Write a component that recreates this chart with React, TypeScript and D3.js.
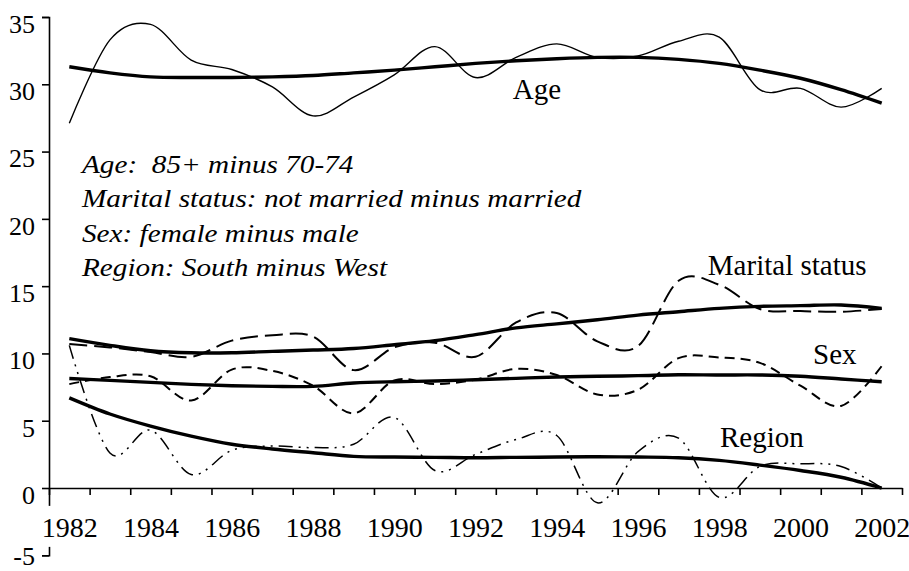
import React, { useEffect, useRef } from 'react'
import * as d3 from 'd3'

// years on the category axis
const years = [1982, 1983, 1984, 1985, 1986, 1987, 1988, 1989, 1990, 1991, 1992,
  1993, 1994, 1995, 1996, 1997, 1998, 1999, 2000, 2001, 2002]
const yearLabels = [1982, 1984, 1986, 1988, 1990, 1992, 1994, 1996, 1998, 2000, 2002]
const yTicks = [-5, 0, 5, 10, 15, 20, 25, 30, 35]

// differences, percentage points
const ageRaw = [27.1, 33.3, 34.45, 31.8, 31.1, 29.8, 27.65, 29.05, 30.7, 32.8, 30.5,
  32.0, 33.0, 32.0, 32.1, 33.2, 33.5, 29.6, 29.7, 28.3, 29.7]
const ageTrend = [31.3, 30.85, 30.55, 30.5, 30.5, 30.55, 30.65, 30.85, 31.05, 31.3, 31.55,
  31.75, 31.9, 32.0, 32.0, 31.85, 31.55, 31.05, 30.45, 29.6, 28.6]
const maritalRaw = [10.7, 10.45, 10.1, 9.75, 10.95, 11.35, 11.25, 8.76, 10.45, 10.8, 9.75,
  12.3, 13.0, 10.9, 10.55, 15.4, 15.1, 13.3, 13.15, 13.1, 13.3]
const maritalTrend = [11.1, 10.6, 10.2, 10.05, 10.05, 10.15, 10.25, 10.37, 10.65, 10.95, 11.4,
  11.9, 12.2, 12.5, 12.85, 13.1, 13.35, 13.5, 13.55, 13.6, 13.35]
const sexRaw = [7.72, 8.25, 8.3, 6.5, 8.8, 8.7, 7.6, 5.55, 8.0, 7.72, 8.05,
  8.85, 8.4, 6.95, 7.3, 9.65, 9.7, 9.3, 7.6, 6.1, 9.06]
const sexTrend = [8.14, 8.0, 7.85, 7.7, 7.6, 7.55, 7.55, 7.8, 7.9, 7.95, 8.05,
  8.15, 8.25, 8.3, 8.35, 8.42, 8.4, 8.4, 8.3, 8.1, 7.9]
const regionRaw = [10.6, 2.6, 4.3, 1.0, 2.8, 3.12, 3.0, 3.25, 5.25, 1.3, 2.5,
  3.6, 3.9, -1.1, 2.7, 3.7, -0.7, 1.6, 1.8, 1.6, 0.0]
const regionTrend = [6.7, 5.5, 4.6, 3.85, 3.25, 2.9, 2.62, 2.35, 2.3, 2.28, 2.25,
  2.28, 2.3, 2.32, 2.3, 2.25, 2.05, 1.7, 1.3, 0.8, 0.0]

const notes = [
  'Age:  85+ minus 70-74',
  'Marital status: not married minus married',
  'Sex: female minus male',
  'Region: South minus West',
]

const FONT = "'Liberation Serif', Tinos, 'Times New Roman', serif"

export default function App() {
  const ref = useRef<SVGSVGElement>(null)

  useEffect(() => {
    const svg = d3.select(ref.current)
    svg.selectAll('*').remove()
    svg.attr('font-family', FONT)

    const x = d3.scaleLinear().domain([1981.5, 2002.5]).range([49, 902])
    const y = d3.scaleLinear().domain([-5, 35]).range([555.3, 17])

    // y axis
    const yAxis = svg.append('g')
      .attr('transform', 'translate(49,0)')
      .style('color', '#000')
      .call(d3.axisLeft(y).tickValues(yTicks).tickSize(7).tickSizeOuter(7).tickPadding(7)
        .tickFormat(d => String(d)))
    yAxis.attr('font-family', FONT).attr('font-size', 26)
    yAxis.selectAll('path, line').attr('stroke-width', 1.6)
    // bottom label kept inside the frame
    yAxis.selectAll<SVGTextElement, number>('text')
      .attr('y', d => (d < 0 ? 1 : 7))
      .attr('fill', '#000')

    // x axis: ticks between categories
    const bounds = years.map(d => d - 0.5).concat([years[years.length - 1] + 0.5])
    const xAxis = svg.append('g')
      .attr('transform', 'translate(0,488)')
      .style('color', '#000')
      .call(d3.axisBottom(x).tickValues(bounds).tickSize(7).tickSizeOuter(0).tickFormat(() => ''))
    xAxis.selectAll('path, line').attr('stroke-width', 1.6)

    // x labels at category centres, with opaque boxes
    const xLab = svg.append('g')
      .attr('transform', 'translate(0,488)')
      .call(d3.axisBottom(x).tickValues(yearLabels).tickSize(0).tickFormat(d => String(d)))
    xLab.attr('font-family', FONT).attr('font-size', 28)
    xLab.select('.domain').remove()
    xLab.selectAll('text')
      .attr('y', 29)
      .attr('fill', '#000')
    xLab.selectAll<SVGGElement, number>('.tick').each(function () {
      const t = d3.select(this).select<SVGTextElement>('text')
      const b = t.node()!.getBBox()
      d3.select(this).insert('rect', 'text')
        .attr('x', b.x - 2).attr('y', b.y - 6)
        .attr('width', b.width + 4).attr('height', b.height + 10)
        .attr('fill', '#fff')
    })

    const line = d3.line<number>()
      .x((d, i) => x(years[i]))
      .y(d => y(d))
      .curve(d3.curveCatmullRom.alpha(0))

    const series = [
      { values: ageRaw, width: 1.4, dash: null },
      { values: maritalRaw, width: 2, dash: '18,7' },
      { values: sexRaw, width: 2, dash: '10,6' },
      { values: regionRaw, width: 1.5, dash: '14,6,2,6,2,6' },
      { values: ageTrend, width: 3.4, dash: null },
      { values: maritalTrend, width: 3.4, dash: null },
      { values: sexTrend, width: 3.4, dash: null },
      { values: regionTrend, width: 3.4, dash: null },
    ]

    svg.append('g')
      .selectAll('path')
      .data(series)
      .enter()
      .append('path')
        .attr('d', d => line(d.values))
        .attr('fill', 'none')
        .attr('stroke', '#000')
        .attr('stroke-width', d => d.width)
        .attr('stroke-dasharray', d => d.dash)
        .attr('stroke-linejoin', 'round')

    // series names
    const names = [
      { text: 'Age', yr: 1992.92, v: 28.9 },
      { text: 'Marital status', yr: 1997.72, v: 15.83 },
      { text: 'Sex', yr: 2000.31, v: 9.2 },
      { text: 'Region', yr: 1998.02, v: 3.05 },
    ]
    svg.append('g')
      .attr('font-size', 29)
      .selectAll('text')
      .data(names)
      .enter()
      .append('text')
        .attr('x', d => x(d.yr))
        .attr('y', d => y(d.v))
        .text(d => d.text)

    // note block (the source type is set wide)
    svg.append('g')
      .attr('font-size', 26)
      .attr('font-style', 'italic')
      .selectAll('text')
      .data(notes)
      .enter()
      .append('text')
        .attr('transform', (d, i) => `translate(82,${173 + i * 34.4}) scale(1.125,1)`)
        .attr('xml:space', 'preserve')
        .style('white-space', 'pre')
        .text(d => d)
  }, [])

  return (
    <svg ref={ref} width={909} height={571}
      style={{ position: 'absolute', left: 0, top: 0, background: '#fff' }} />
  )
}
